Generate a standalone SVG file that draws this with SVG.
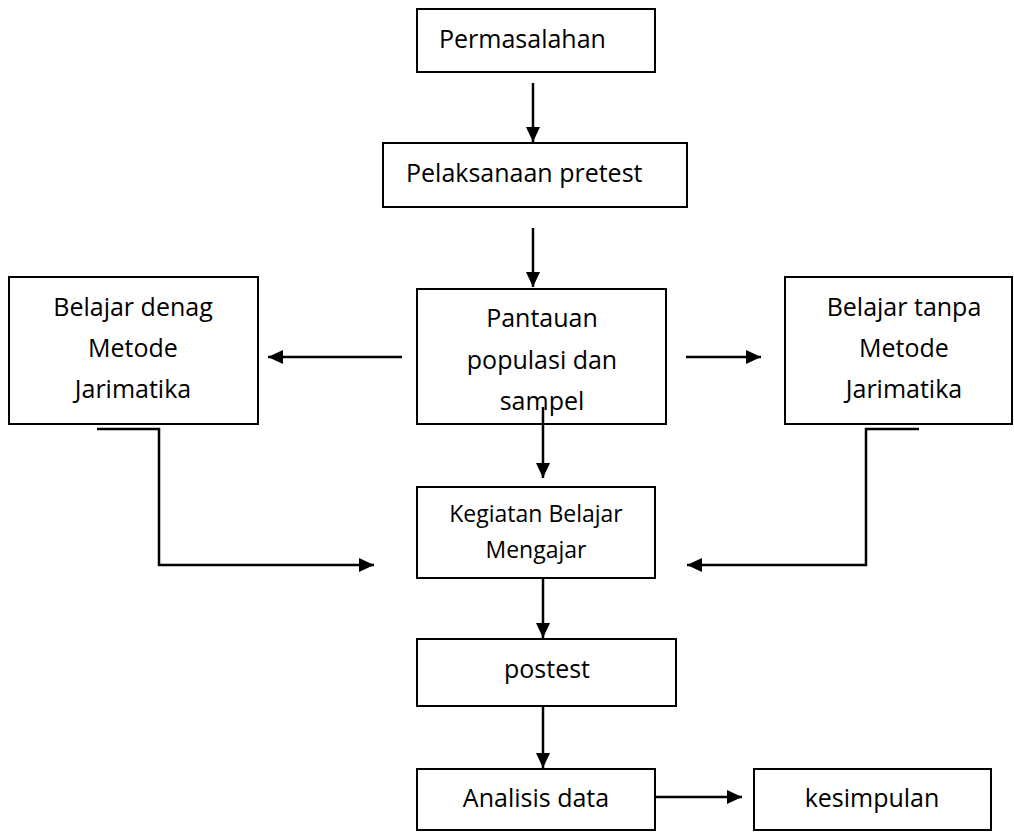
<svg xmlns="http://www.w3.org/2000/svg" width="1014" height="832" viewBox="0 0 1014 832">
<style>
.box{fill:#fff;stroke:#000;stroke-width:2}
.t{font-family:"Open Sans","Liberation Sans",sans-serif;font-size:25px;fill:#000}
.s{font-size:23px}
.c{text-anchor:middle}
.ln{fill:none;stroke:#000;stroke-width:2.5}
</style>
<defs>
<marker id="ah" markerUnits="userSpaceOnUse" markerWidth="16" markerHeight="14" refX="15" refY="7" orient="auto">
<path d="M0,0 L15,7 L0,14 Z" fill="#000"/>
</marker>
</defs>
<rect width="1014" height="832" fill="#fff"/>
<g id="permasalahan">
<rect class="box" x="417" y="9" width="238" height="63"/>
<text class="t" x="439" y="48">Permasalahan</text>
</g>
<g id="pretest">
<rect class="box" x="383" y="143" width="304" height="64"/>
<text class="t" x="406" y="182">Pelaksanaan pretest</text>
</g>
<g id="pantauan">
<rect class="box" x="417" y="289" width="249" height="135"/>
<text class="t c" x="542" y="327">Pantauan</text>
<text class="t c" x="542" y="369">populasi dan</text>
<text class="t c" x="542" y="410">sampel</text>
</g>
<g id="dengan">
<rect class="box" x="9" y="277" width="249" height="147"/>
<text class="t c" x="133" y="316">Belajar denag</text>
<text class="t c" x="133" y="357">Metode</text>
<text class="t c" x="133" y="398">Jarimatika</text>
</g>
<g id="tanpa">
<rect class="box" x="785" y="277" width="227" height="147"/>
<text class="t c" x="904" y="316">Belajar tanpa</text>
<text class="t c" x="904" y="357">Metode</text>
<text class="t c" x="904" y="398">Jarimatika</text>
</g>
<g id="kbm">
<rect class="box" x="417" y="487" width="238" height="91"/>
<text class="t s c" x="536" y="522">Kegiatan Belajar</text>
<text class="t s c" x="536" y="558">Mengajar</text>
</g>
<g id="postest">
<rect class="box" x="417" y="639" width="259" height="67"/>
<text class="t c" x="547" y="678">postest</text>
</g>
<g id="analisis">
<rect class="box" x="417" y="769" width="238" height="61"/>
<text class="t c" x="536" y="807">Analisis data</text>
</g>
<g id="kesimpulan">
<rect class="box" x="754" y="769" width="237" height="61"/>
<text class="t c" x="872" y="807">kesimpulan</text>
</g>
<g id="connectors">
<line class="ln" x1="533" y1="83" x2="533" y2="142" marker-end="url(#ah)"/>
<line class="ln" x1="533" y1="228" x2="533" y2="287" marker-end="url(#ah)"/>
<line class="ln" x1="402" y1="357" x2="268" y2="357" marker-end="url(#ah)"/>
<line class="ln" x1="686" y1="357" x2="761" y2="357" marker-end="url(#ah)"/>
<line class="ln" x1="543" y1="407" x2="543" y2="478" marker-end="url(#ah)"/>
<polyline class="ln" points="97,429 159,429 159,565 374,565" marker-end="url(#ah)"/>
<polyline class="ln" points="919,429 866,429 866,565 687,565" marker-end="url(#ah)"/>
<line class="ln" x1="543" y1="578" x2="543" y2="638" marker-end="url(#ah)"/>
<line class="ln" x1="543" y1="706" x2="543" y2="768" marker-end="url(#ah)"/>
<line class="ln" x1="655" y1="797" x2="742" y2="797" marker-end="url(#ah)"/>
</g>
</svg>
